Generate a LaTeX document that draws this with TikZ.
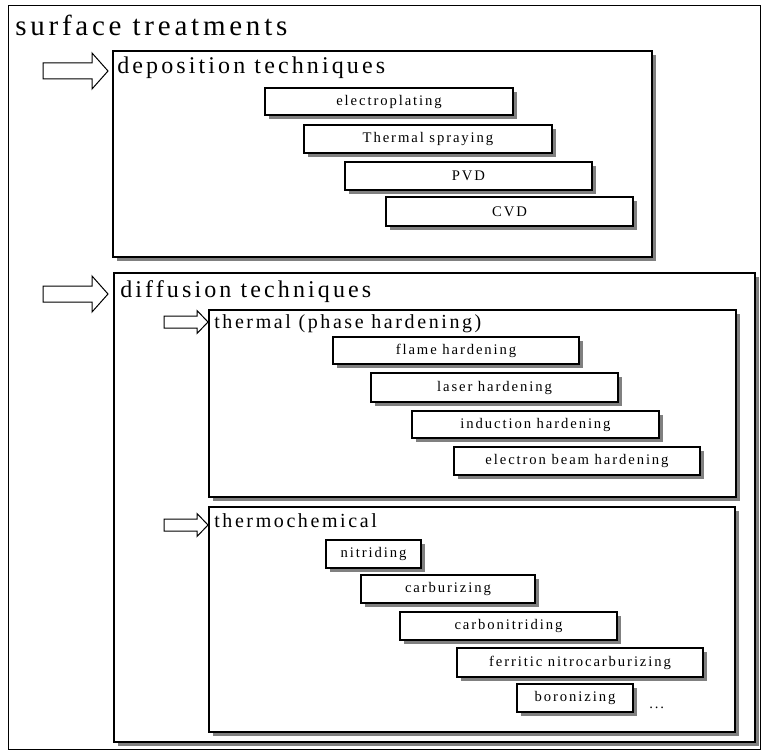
\documentclass[tikz,border=0pt]{standalone}
\usepackage{fontspec}
\setmainfont{Liberation Serif}[LetterSpace=13]
\usetikzlibrary{fit,shadows}
\tikzset{
  frame/.style={draw=black, line width=0.75pt, inner sep=0pt},
  group/.style={draw=black, line width=1pt, fill=white, inner sep=0pt,
    general shadow={fill=black!50, shadow xshift=3pt, shadow yshift=-3pt}},
  itemtext/.style={inner sep=0pt, font=\fontsize{11}{13}\selectfont},
  item/.style={group},
  head/.style={anchor=base west, inner sep=0pt},
  toptext/.style={head, font=\fontsize{21.75}{26}\selectfont},
  midtext/.style={head, font=\fontsize{18}{22}\selectfont},
  lowtext/.style={head, font=\fontsize{15}{18}\selectfont},
  arrowline/.style={draw=black, line width=0.75pt, fill=white},
  pics/bigarrow/.style={code={\draw[arrowline] (-65,-8) -- (-16,-8) -- (-16,-18) -- (0,0) -- (-16,18) -- (-16,8) -- (-65,8) -- cycle;}},
  pics/smallarrow/.style={code={\draw[arrowline] (-44,-6) -- (-11,-6) -- (-11,-11.5) -- (0,0) -- (-11,11.5) -- (-11,6) -- (-44,6) -- cycle;}},
}
\begin{document}
\begin{tikzpicture}[x=0.75pt,y=-0.75pt]
\useasboundingbox (0,0) rectangle (763,752);
% outer frame
\node[frame, fit={(8,6) (760,749)}] (outer) {};
\node[toptext] (title) at (15,36) {surface treatments};

% deposition
\node[group, fit={(113,51) (652,257)}] (dep) {};
\node[midtext] (deplabel) at (117,74) {deposition techniques};
\pic at (108,71) {bigarrow};
\node[item, fit={(265,88) (513,115)}, label={[itemtext]center:electroplating}] (ep) {};
\node[item, fit={(304,125) (552,153)}, label={[itemtext]center:Thermal spraying}] (ts) {};
\node[item, fit={(345,162) (592,190)}, label={[itemtext]center:PVD}] (pvd) {};
\node[item, fit={(386,197) (633,226)}, label={[itemtext]center:CVD}] (cvd) {};

% diffusion
\node[group, fit={(114,273) (755,742)}] (dif) {};
\node[midtext] (diflabel) at (120,297) {diffusion techniques};
\pic at (108,294) {bigarrow};

% thermal
\node[group, fit={(209,310) (736,497)}] (th) {};
\node[lowtext] (thlabel) at (214,328) {thermal (phase hardening)};
\pic at (208,322) {smallarrow};
\node[item, fit={(333,337) (579,364)}, label={[itemtext]center:flame hardening}] (fh) {};
\node[item, fit={(371,373) (618,402)}, label={[itemtext]center:laser hardening}] (lh) {};
\node[item, fit={(412,411) (659,438)}, label={[itemtext]center:induction hardening}] (ih) {};
\node[item, fit={(454,447) (700,475)}, label={[itemtext]center:electron beam hardening}] (eb) {};

% thermochemical
\node[group, fit={(209,507) (735,732)}] (tc) {};
\node[lowtext] (tclabel) at (214,527) {thermochemical};
\pic at (208,525) {smallarrow};
\node[item, fit={(326,540) (421,568)}, label={[itemtext]center:nitriding}] (ni) {};
\node[item, fit={(361,575) (535,603)}, label={[itemtext]center:carburizing}] (ca) {};
\node[item, fit={(400,612) (617,640)}, label={[itemtext]center:carbonitriding}] (cn) {};
\node[item, fit={(457,648) (703,677)}, label={[itemtext]center:ferritic nitrocarburizing}] (fn) {};
\node[item, fit={(517,684) (633,712)}, label={[itemtext]center:boronizing}] (bo) {};
\node[head, font=\fontsize{11}{13}\selectfont] (dots) at (649,708) {...};
\end{tikzpicture}
\end{document}
